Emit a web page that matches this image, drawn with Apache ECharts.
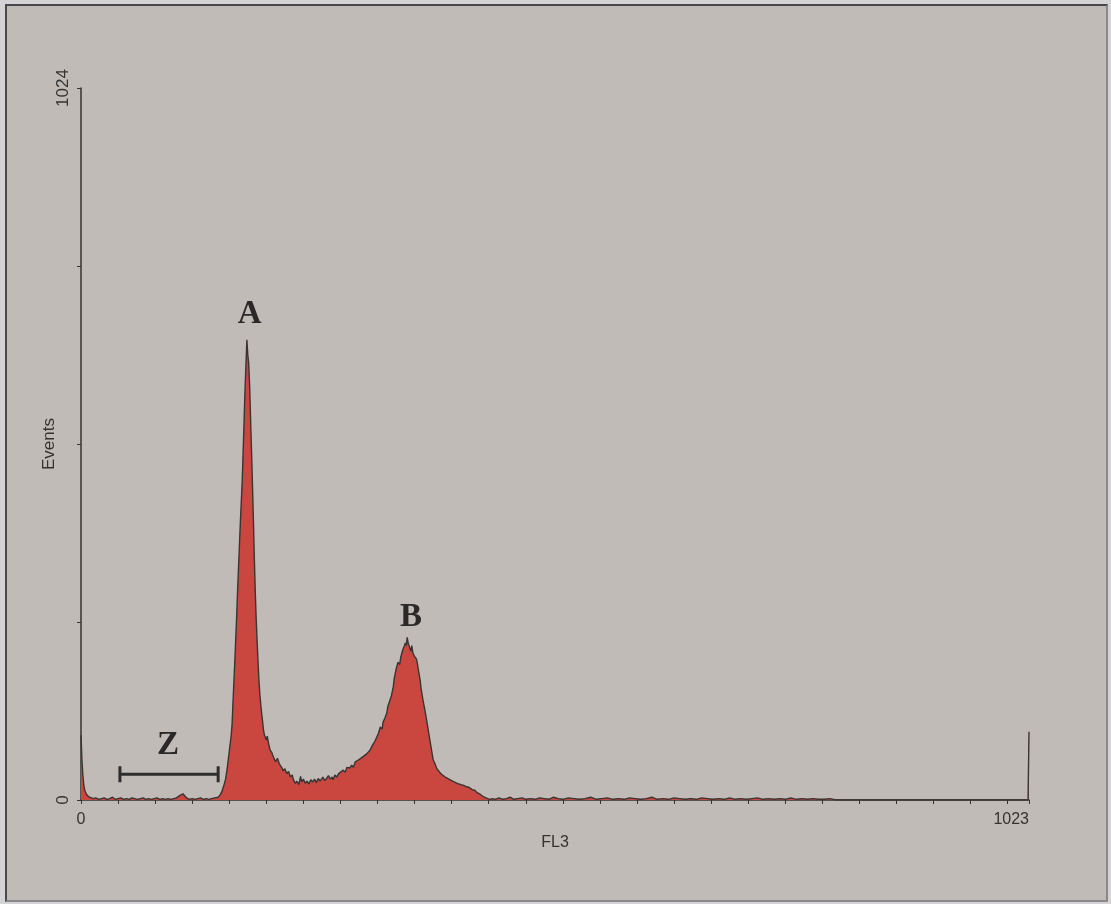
<!DOCTYPE html>
<html>
<head>
<meta charset="utf-8">
<title>FL3 histogram</title>
<script src="https://cdn.jsdelivr.net/npm/echarts@6/dist/echarts.min.js"></script>
<style>
  html, body { margin: 0; padding: 0; background: #d4d4d6; }
  #frame {
    position: absolute; left: 5px; top: 4px; width: 1099px; height: 894px;
    border: 2px solid #4a4848; border-right-color: #8a8888; border-bottom-color: #8a8888;
    background: #c0bbb7;
  }
  #chart { position: absolute; left: 0; top: 0; width: 1111px; height: 904px; }
</style>
</head>
<body>
<div id="frame"></div>
<div id="chart"></div>
<script>
// FL3 histogram (channel -> events)
const channels = [
  0, 1, 2, 3, 4, 6, 8, 10, 13, 16, 19, 22, 25, 28, 31, 34, 37, 40, 43, 46, 49, 52, 55, 58, 61, 64, 67, 70, 73, 76,
  79, 82, 85, 88, 91, 94, 97, 100, 103, 106, 108, 110, 112, 114, 117, 120, 123, 126, 129, 132, 135, 138, 141, 144, 146, 148,
  150, 152, 154, 156, 158, 160, 162, 163, 164, 166, 168, 169, 170, 172, 174, 176, 177, 178, 179, 180, 181, 182, 183, 184,
  185, 186, 187, 188, 189, 190, 191, 192, 193, 194, 195, 196, 197, 198, 199, 200, 201, 202, 203, 204, 206, 207, 209, 210,
  212, 214, 215, 217, 218, 220, 222, 224, 226, 228, 229, 231, 233, 235, 237, 238, 240, 242, 244, 246, 248, 250, 252, 254,
  256, 258, 261, 263, 265, 267, 269, 271, 272, 274, 276, 278, 280, 283, 285, 287, 290, 292, 294, 296, 298, 300, 302, 304,
  306, 308, 310, 312, 314, 315, 317, 319, 321, 323, 325, 326, 328, 330, 331, 333, 335, 337, 338, 340, 341, 342, 344, 345,
  347, 349, 350, 351, 352, 353, 354, 355, 356, 357, 358, 360, 362, 363, 364, 366, 367, 369, 371, 373, 375, 377, 379, 380,
  382, 384, 385, 387, 389, 391, 393, 395, 397, 399, 401, 403, 406, 408, 410, 413, 416, 419, 422, 425, 427, 429, 431, 434,
  437, 441, 444, 447, 451, 455, 459, 463, 467, 471, 476, 480, 485, 490, 495, 500, 505, 510, 515, 520, 526, 532, 538, 544,
  550, 556, 562, 568, 574, 580, 586, 592, 598, 604, 610, 616, 622, 628, 634, 640, 646, 652, 658, 664, 670, 676, 682, 688,
  694, 700, 706, 712, 718, 724, 730, 736, 742, 748, 754, 760, 766, 772, 778, 784, 790, 796, 802, 808, 815, 1022, 1023
];
const events = [
  93, 58, 36, 22, 14, 8, 5, 3, 2, 3, 1, 2, 3, 1, 2, 4, 1, 2, 3, 1, 2, 1, 3, 2, 1, 2, 3, 1, 2, 1,
  2, 3, 1, 2, 1, 2, 1, 2, 3, 6, 8, 9, 7, 3, 1, 2, 1, 2, 3, 1, 2, 1, 2, 3, 3, 4,
  7, 12, 20, 30, 48, 70, 92, 108, 140, 200, 265, 302, 335, 400, 460, 545, 590, 625, 662, 640, 628, 595, 548, 503,
  455, 405, 350, 302, 262, 230, 200, 173, 152, 137, 124, 112, 100, 93, 90, 86, 92, 84, 78, 72, 68, 64, 58, 55,
  60, 52, 50, 46, 42, 45, 38, 41, 33, 36, 30, 24, 27, 22, 34, 26, 30, 24, 27, 23, 29, 26, 30, 25,
  31, 27, 33, 28, 31, 35, 30, 33, 29, 36, 33, 38, 36, 43, 40, 47, 46, 50, 47, 55, 53, 58, 56, 62,
  60, 66, 64, 72, 70, 80, 84, 90, 96, 105, 102, 112, 118, 125, 134, 142, 150, 163, 175, 188, 190, 198, 195, 205,
  215, 222, 226, 222, 234, 226, 222, 220, 214, 222, 212, 206, 203, 196, 188, 172, 160, 144, 130, 115, 98, 82, 66, 58,
  52, 45, 43, 40, 37, 38, 33, 33, 30, 31, 27, 28, 24, 25, 22, 21, 19, 18, 15, 14, 11, 13, 8, 5,
  3, 1, 2, 1, 3, 1, 2, 4, 1, 2, 3, 1, 2, 1, 3, 2, 1, 4, 2, 1, 3, 2, 1, 2,
  4, 1, 2, 3, 1, 2, 1, 3, 2, 1, 2, 4, 1, 2, 1, 3, 2, 1, 2, 1, 3, 2, 1, 2,
  1, 3, 1, 2, 1, 2, 3, 1, 2, 1, 2, 1, 3, 1, 2, 1, 2, 1, 1, 2, 0, 0, 98
];
const xTickLabels = [0, 1023];
const yTickLabels = [0, 1024];

// annotations: [label, channel, events]
const peakLabels = [["A", 182, 699], ["B", 356, 263], ["Z", 94, 79]];
const zGate = [42, 148, 37];

const chart = echarts.init(document.getElementById("chart"));

const option = {
  backgroundColor: "transparent",
  animation: false,
  grid: { left: 81, right: 82, top: 88, bottom: 104 },
  xAxis: {
    type: "value",
    min: 0,
    max: 1023,
    interval: 40,
    name: "FL3",
    nameLocation: "middle",
    nameGap: 35,
    nameMoveOverlap: false,
    nameTextStyle: { color: "#333", fontSize: 16, fontFamily: "Liberation Sans" },
    splitLine: { show: false },
    axisLine: { lineStyle: { color: "#333", width: 1.5 } },
    axisTick: { length: 4, lineStyle: { color: "#333" } },
    axisLabel: {
      color: "#333",
      fontSize: 16,
      fontFamily: "Liberation Sans",
      margin: 12,
      alignMaxLabel: "right",
      formatter: (v) => (xTickLabels.includes(v) ? String(v) : ""),
    },
  },
  yAxis: {
    type: "value",
    min: 0,
    max: 1024,
    interval: 256,
    name: "Events",
    nameLocation: "middle",
    nameGap: 23,
    nameMoveOverlap: false,
    nameTextStyle: { color: "#333", fontSize: 17, fontFamily: "Liberation Sans" },
    splitLine: { show: false },
    axisLine: { show: true, lineStyle: { color: "#333", width: 1.5 } },
    axisTick: { show: true, length: 4, lineStyle: { color: "#333" } },
    axisLabel: {
      color: "#333",
      fontSize: 17,
      fontFamily: "Liberation Sans",
      rotate: 90,
      margin: 9,
      formatter: (v) => (yTickLabels.includes(v) ? String(v) : ""),
    },
  },
  series: [
    {
      type: "line",
      data: channels.map((c, i) => [c, events[i]]),
      symbol: "none",
      lineStyle: { color: "#3a3333", width: 1.4 },
      areaStyle: { color: "#c9473f", opacity: 1 },
    },
  ],
};

chart.setOption(option);

// annotation letters and the Z gate bar, placed in data coordinates
const px = (c, v) => chart.convertToPixel({ gridIndex: 0 }, [c, v]);
const g1 = px(zGate[0], zGate[2]);
const g2 = px(zGate[1], zGate[2]);
const barStyle = { stroke: "#2e2c2c", lineWidth: 3 };
const graphics = peakLabels.map(([t, c, v]) => {
  const p = px(c, v);
  return {
    type: "text",
    x: p[0],
    y: p[1],
    style: {
      text: t,
      font: "bold 33px 'Liberation Serif'",
      fill: "#2a2828",
      align: "center",
      verticalAlign: "middle",
    },
  };
});
graphics.push(
  { type: "line", shape: { x1: g1[0], y1: g1[1], x2: g2[0], y2: g2[1] }, style: barStyle },
  { type: "line", shape: { x1: g1[0], y1: g1[1] - 8, x2: g1[0], y2: g1[1] + 8 }, style: barStyle },
  { type: "line", shape: { x1: g2[0], y1: g2[1] - 8, x2: g2[0], y2: g2[1] + 8 }, style: barStyle }
);
chart.setOption({ graphic: graphics });

window.addEventListener("resize", () => chart.resize());
</script>
</body>
</html>
